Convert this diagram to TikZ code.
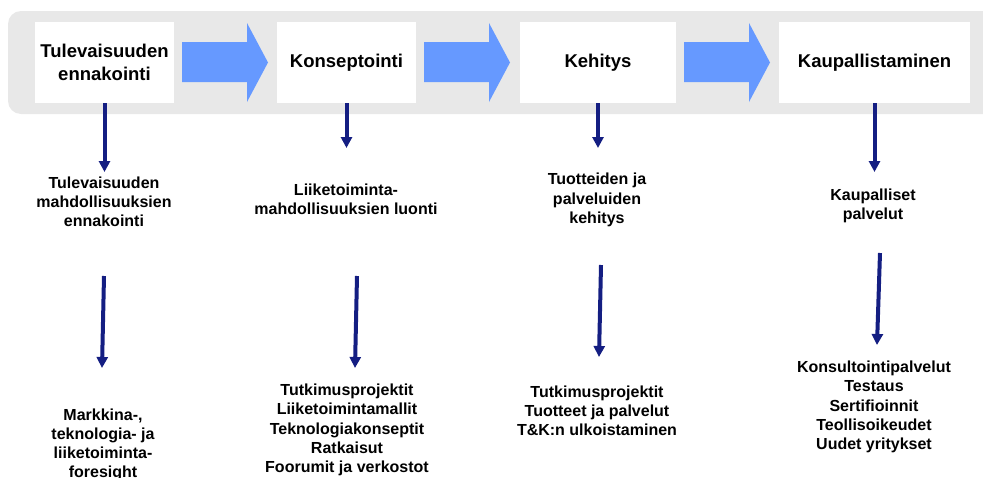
\documentclass[tikz,border=0pt]{standalone}
\usepackage{fontspec}
\setmainfont{Liberation Sans}
\usetikzlibrary{arrows.meta}
\definecolor{bandgray}{RGB}{232,232,232}
\definecolor{flowblue}{RGB}{102,153,255}
\definecolor{navyblue}{RGB}{20,30,130}

\begin{document}
\begin{tikzpicture}[x=1pt,y=-1pt,
	phase/.style={fill=white,minimum height=81pt,inner sep=0pt,align=center,font=\fontsize{18.5}{22.5}\selectfont\bfseries},
	desc/.style={align=center,inner sep=0pt,font=\fontsize{16}{19.2}\selectfont\bfseries},
	downarrow/.style={draw=navyblue,line width=4pt,-{Triangle[width=11pt,length=11pt]}}]
			\useasboundingbox (0,0) rectangle (983,477);

			% tausta
			\fill[bandgray,rounded corners=13pt] (8,11) rectangle (1010,114);

			\node[phase,minimum width=139pt] (P1) at (104.5,62.5) {Tulevaisuuden\\ennakointi};
			\node[phase,minimum width=139pt] (P2) at (346.5,62.5) {Konseptointi};
			\node[phase,minimum width=156pt] (P3) at (598,62.5) {Kehitys};
			\node[phase,minimum width=191pt] (P4) at (874.5,62.5) {Kaupallistaminen};

			\foreach \s in {182,424,684}
			\fill[flowblue] (\s,42) -- ({\s+65},42) -- ({\s+65},23) -- ({\s+86},62.5)
				-- ({\s+65},102) -- ({\s+65},82) -- (\s,82) -- cycle;

			\node[desc] (T1) at (104,202) {Tulevaisuuden\\mahdollisuuksien\\ennakointi};
			\node[desc] (T2) at (346,199) {Liiketoiminta-\\mahdollisuuksien luonti};
			\node[desc] (T3) at (597,200) {Tuotteiden ja\\palveluiden\\kehitys};
			\node[desc] (T4) at (873,206) {Kaupalliset\\palvelut};

			\node[desc] (M1) at (103,445) {Markkina-,\\teknologia- ja\\liiketoiminta-\\foresight};
			\node[desc] (M2) at (347,430) {Tutkimusprojektit\\Liiketoimintamallit\\Teknologiakonseptit\\Ratkaisut\\Foorumit ja verkostot};
			\node[desc] (M3) at (597,411) {Tutkimusprojektit\\Tuotteet ja palvelut\\T\&K:n ulkoistaminen};
			\node[desc] (M4) at (874,407) {Konsultointipalvelut\\Testaus\\Sertifioinnit\\Teollisoikeudet\\Uudet yritykset};

			\coordinate (a1) at (104.5,172);
			\coordinate (a2) at (346.5,148);
			\coordinate (a3) at (598,148);
			\coordinate (a4) at (874.5,172);

			\draw[downarrow] (P1) -- (a1);
			\draw[downarrow] (P2) -- (a2);
			\draw[downarrow] (P3) -- (a3);
			\draw[downarrow] (P4) -- (a4);

			\coordinate (b1) at (104,276);
			\coordinate (c1) at (102,368);
			\coordinate (b2) at (357,276);
			\coordinate (c2) at (355,368);
			\coordinate (b3) at (601,265);
			\coordinate (c3) at (599,357);
			\coordinate (b4) at (880,253);
			\coordinate (c4) at (877,345);

			\foreach \i in {1,...,4}
			\draw[downarrow] (b\i) -- (c\i);
		\end{tikzpicture}
\end{document}
